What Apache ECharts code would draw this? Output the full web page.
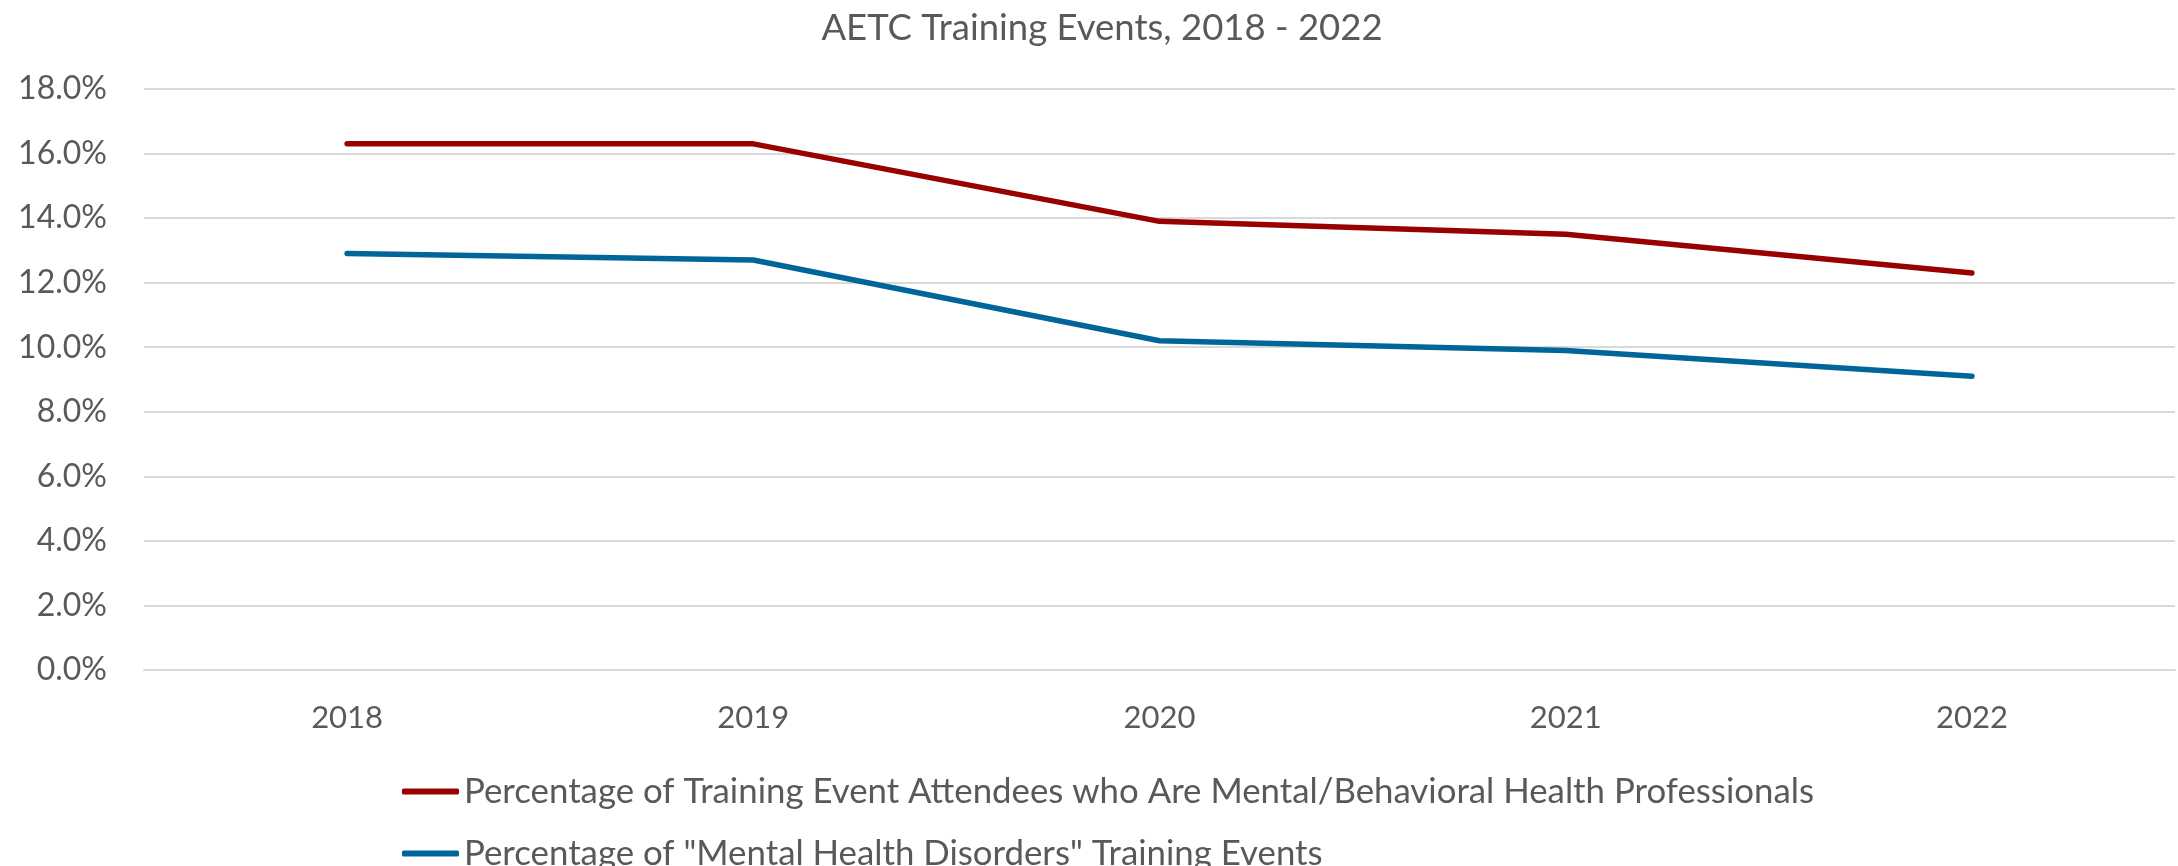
<!DOCTYPE html>
<html>
<head>
<meta charset="utf-8">
<title>AETC Training Events, 2018 - 2022</title>
<script src="https://cdn.jsdelivr.net/npm/echarts@6/dist/echarts.min.js"></script>
<style>
    html, body { margin: 0; padding: 0; background: #fff; }
    #chart { width: 2178px; height: 866px; }
</style>
</head>
<body>
<div id="chart"></div>
<script>
var years = ['2018', '2019', '2020', '2021', '2022'];
// values in percent
var attendeesMbh = [16.3, 16.3, 13.9, 13.5, 12.3];
var mhdEvents = [12.9, 12.7, 10.2, 9.9, 9.1];
var seriesNames = [
    'Percentage of Training Event Attendees who Are Mental/Behavioral Health Professionals',
    'Percentage of "Mental Health Disorders" Training Events'
];

var textColor = '#595959';
var fontName = 'Lato';

var chart = echarts.init(document.getElementById('chart'));
var option = {
    backgroundColor: '#ffffff',
    animation: false,
    title: {
        text: 'AETC Training Events, 2018 - 2022',
        left: 1097,
        top: 5,
        textAlign: 'center',
        textStyle: {
            color: textColor,
            fontFamily: fontName,
            fontWeight: 'normal',
            fontSize: 36.5
        }
    },
    grid: {
        left: 144,
        right: 3,
        top: 89,
        bottom: 196
    },
    legend: {
        orient: 'vertical',
        left: 397,
        top: 769,
        height: 97,
        itemWidth: 57,
        itemHeight: 6,
        itemGap: 27,
        icon: 'roundRect',
        data: seriesNames,
        textStyle: {
            color: textColor,
            fontFamily: fontName,
            fontSize: 34.8,
            lineHeight: 34
        }
    },
    xAxis: {
        type: 'category',
        data: years,
        boundaryGap: true,
        axisLine: {
            show: true,
            lineStyle: { color: '#d9d9d9', width: 2 }
        },
        axisTick: { show: false },
        axisLabel: {
            color: textColor,
            fontFamily: fontName,
            fontSize: 31,
            margin: 32
        }
    },
    yAxis: {
        type: 'value',
        min: 0,
        max: 18,
        interval: 2,
        axisLine: { show: false },
        axisTick: { show: false },
        axisLabel: {
            color: textColor,
            fontFamily: fontName,
            fontSize: 32,
            margin: 37,
            formatter: function (v) {
                return v.toFixed(1) + '%';
            }
        },
        splitLine: {
            show: true,
            lineStyle: { color: '#d9d9d9', width: 2 }
        }
    },
    series: [{
        name: seriesNames[0],
        type: 'line',
        data: attendeesMbh,
        showSymbol: false,
        symbol: 'none',
        itemStyle: { color: '#990000' },
        lineStyle: { color: '#990000', width: 5.5, cap: 'round', join: 'round' }
    }, {
        name: seriesNames[1],
        type: 'line',
        data: mhdEvents,
        showSymbol: false,
        symbol: 'none',
        itemStyle: { color: '#00669a' },
        lineStyle: { color: '#00669a', width: 5.5, cap: 'round', join: 'round' }
    }]
};
chart.setOption(option);
</script>
</body>
</html>
